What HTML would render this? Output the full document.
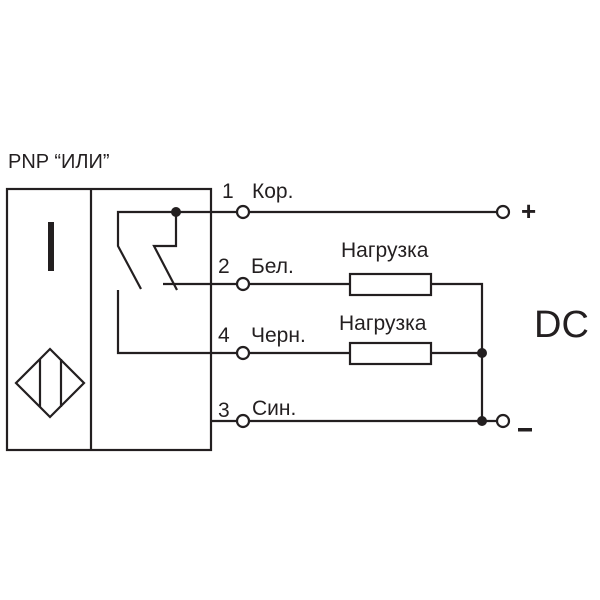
<!DOCTYPE html>
<html><head><style>body{margin:0;background:#fff}svg{display:block}text{font-family:"Liberation Sans",sans-serif;fill:#231f20}</style></head>
<body>
<svg width="600" height="600" viewBox="0 0 600 600" xmlns="http://www.w3.org/2000/svg">
<g stroke="#231f20" stroke-width="2.2" fill="none">
<rect x="7" y="189" width="204" height="261"/>
<line x1="91" y1="189" x2="91" y2="450"/>
<polygon points="50,349 84,383 50,417 16,383"/>
<line x1="40" y1="359" x2="40" y2="407"/>
<line x1="61" y1="359" x2="61" y2="407"/>
<polyline points="237,212 118,212 118,246 141,289"/>
<polyline points="176,212 176,246 154,246 177,290"/>
<polyline points="118,290 118,353 237,353"/>
<line x1="163" y1="284" x2="237" y2="284"/>
<line x1="211" y1="421" x2="237" y2="421"/>
<line x1="249" y1="212" x2="497" y2="212"/>
<line x1="249" y1="284" x2="350" y2="284"/>
<polyline points="431,284 482,284 482,421"/>
<line x1="249" y1="353" x2="350" y2="353"/>
<line x1="431" y1="353" x2="482" y2="353"/>
<line x1="249" y1="421" x2="497" y2="421"/>
<rect x="350" y="274" width="81" height="21"/>
<rect x="350" y="343" width="81" height="21"/>
<circle cx="243" cy="212" r="6" fill="#fff"/>
<circle cx="243" cy="284" r="6" fill="#fff"/>
<circle cx="243" cy="353" r="6" fill="#fff"/>
<circle cx="243" cy="421" r="6" fill="#fff"/>
<circle cx="503" cy="212" r="6" fill="#fff"/>
<circle cx="503" cy="421" r="6" fill="#fff"/>
</g>
<rect x="48" y="222" width="6" height="49" fill="#231f20"/>
<circle cx="176" cy="212" r="5" fill="#231f20"/>
<circle cx="482" cy="353" r="5" fill="#231f20"/>
<circle cx="482" cy="421" r="5" fill="#231f20"/>
<text x="8" y="168" font-size="20">PNP “ИЛИ”</text>
<text x="222" y="198" font-size="21">1</text><text x="252" y="198" font-size="21">Кор.</text>
<text x="218" y="273" font-size="21">2</text><text x="251" y="273" font-size="21">Бел.</text>
<text x="218" y="342" font-size="21">4</text><text x="251" y="342" font-size="21">Черн.</text>
<text x="218" y="417" font-size="21">3</text><text x="252" y="415" font-size="21">Син.</text>
<text x="341" y="257" font-size="21">Нагрузка</text>
<text x="339" y="330" font-size="21">Нагрузка</text>
<text x="521" y="220" font-size="26" font-weight="bold">+</text>
<rect x="518" y="428" width="14" height="3.5" fill="#231f20"/>
<text x="534" y="337" font-size="38">DC</text>
</svg>
</body></html>
